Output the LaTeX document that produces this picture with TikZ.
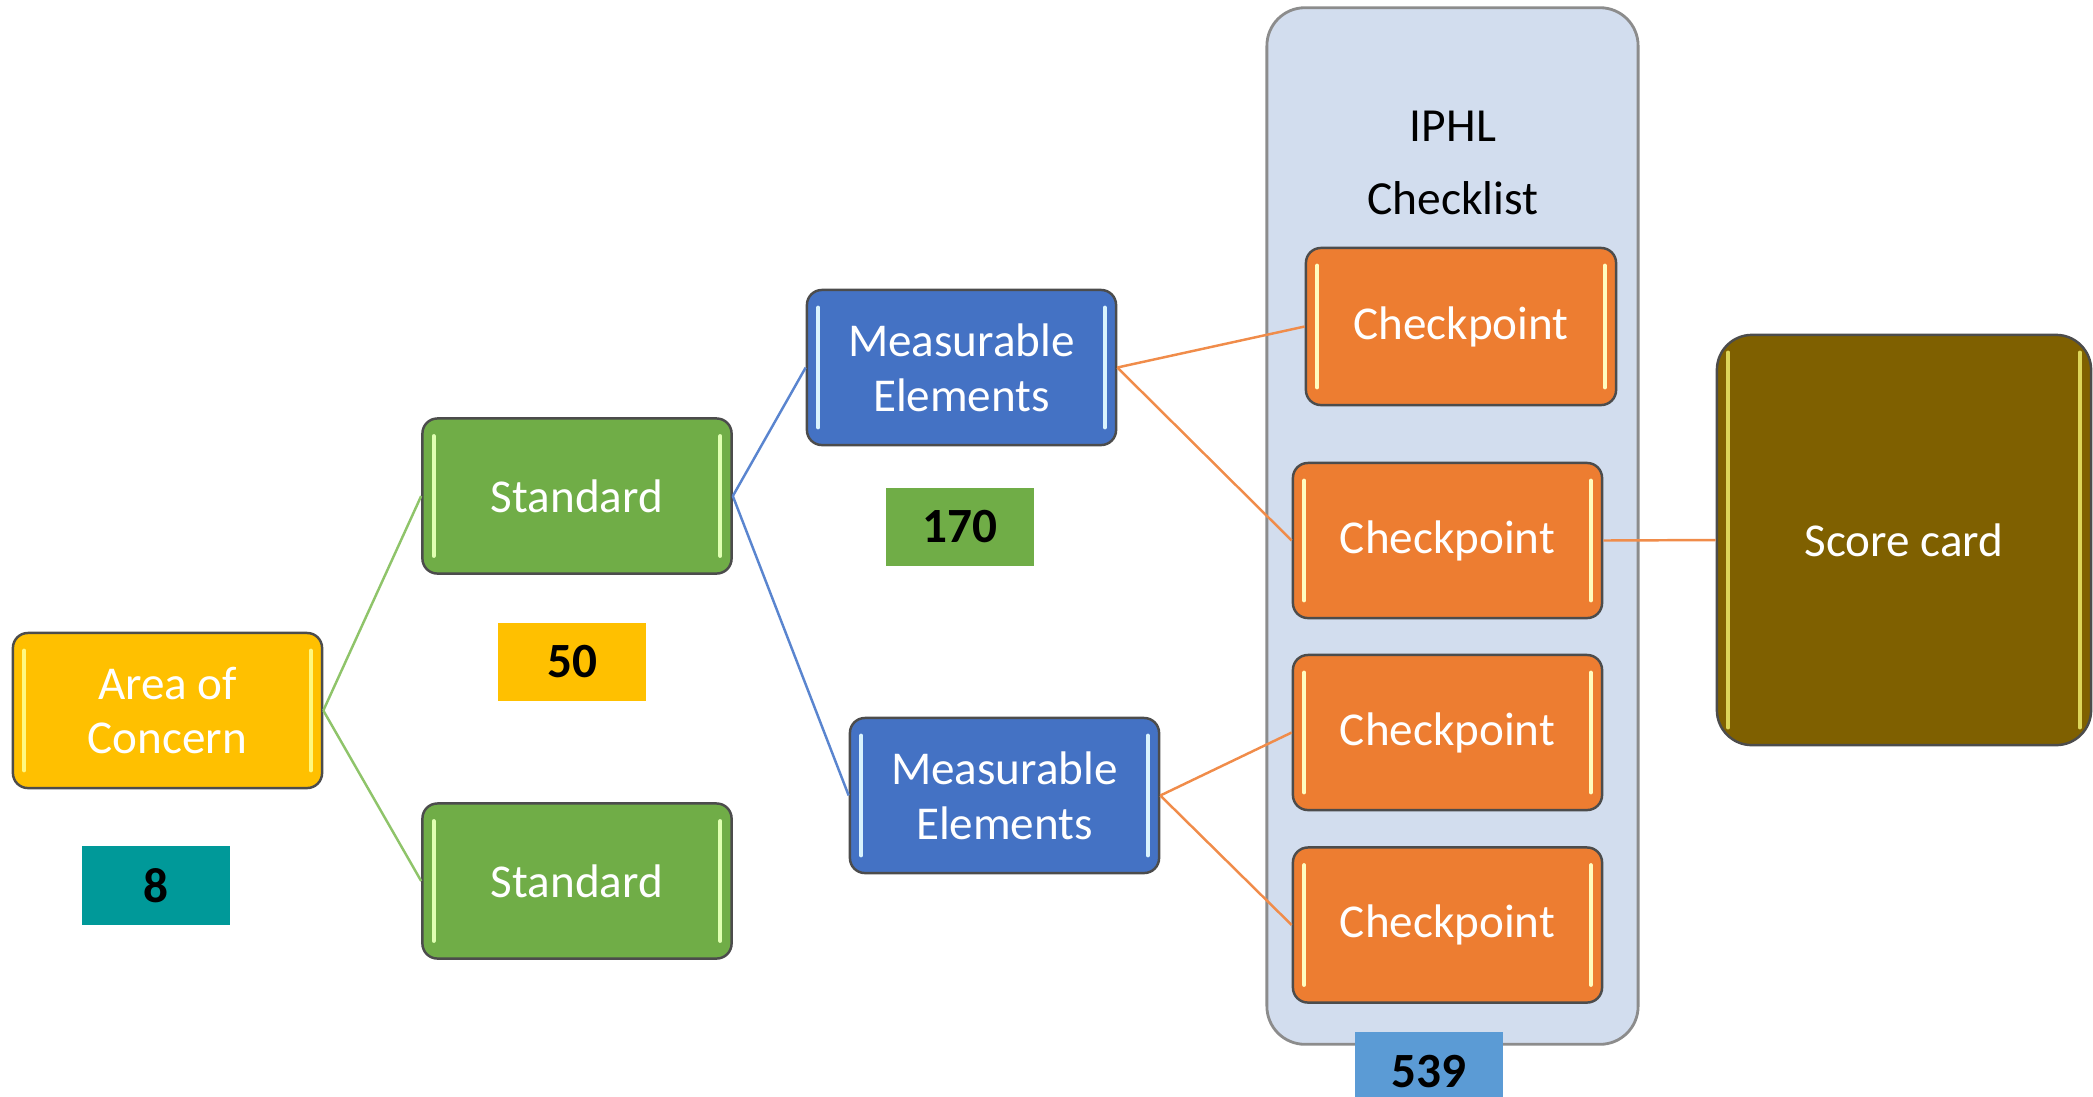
\documentclass[tikz,border=0pt]{standalone}
\usepackage{fontspec}
\setmainfont{Carlito}
\usetikzlibrary{positioning}

\definecolor{areayellow}{HTML}{FFC000}
\definecolor{stdgreen}{HTML}{70AD47}
\definecolor{meblue}{HTML}{4472C4}
\definecolor{cporange}{HTML}{ED7D31}
\definecolor{scoreolive}{HTML}{7F6000}
\definecolor{countteal}{HTML}{009999}
\definecolor{countblue}{HTML}{5B9BD5}
\definecolor{listfill}{HTML}{D2DDEE}
\definecolor{greenline}{HTML}{8FC46A}
\definecolor{blueline}{HTML}{5A85CF}
\definecolor{orangeline}{HTML}{F08C4A}

\tikzset{
  box/.style={draw=black!70, line width=0.7pt, rounded corners=0.15cm,
    text=white, align=center, font=\fontsize{13.4}{15.6}\selectfont,
    minimum width=3.09cm, minimum height=1.55cm, inner sep=0pt},
  gloss/.style={path picture={
    \draw[#1, line width=1.1pt, line cap=round]
      ([xshift=3.2pt,yshift=-5pt]path picture bounding box.north west) --
      ([xshift=3.2pt,yshift=5pt]path picture bounding box.south west);
    \draw[#1, line width=1.1pt, line cap=round]
      ([xshift=-3.2pt,yshift=-5pt]path picture bounding box.north east) --
      ([xshift=-3.2pt,yshift=5pt]path picture bounding box.south east);}},
  areabox/.style={box, fill=areayellow, gloss=yellow!50},
  stdbox/.style={box, fill=stdgreen, gloss=green!20!lime!30},
  mebox/.style={box, fill=meblue, gloss=cyan!15},
  cpbox/.style={box, fill=cporange, gloss=yellow!25},
  scorebox/.style={box, fill=scoreolive, gloss=yellow!50!olive!60,
    rounded corners=0.35cm},
  countbox/.style={fill=#1, minimum width=1.48cm, minimum height=0.78cm,
    inner sep=0pt, font=\fontsize{14}{16}\selectfont\bfseries},
  link/.style={line width=0.7pt}
}

\begin{document}
\begin{tikzpicture}[x=0.01cm, y=-0.01cm]
  \clip (0,0) rectangle (2093,1096);

  % IPHL checklist frame
  \node[draw=black!45, line width=0.8pt, fill=listfill, rounded corners=0.38cm,
    minimum width=3.71cm, minimum height=10.36cm] (iphl) at (1452.5,526) {};
  \node[align=center, font=\fontsize{13.5}{20.7}\selectfont] (iphltitle)
    at (1453,163) {IPHL\\Checklist};

  % Boxes
  \node[areabox] (area) at (167.5,710.5) {Area of\\Concern};
  \node[stdbox] (std1) at (577,496) {Standard};
  \node[stdbox] (std2) at (577,881) {Standard};
  \node[mebox] (me1) at (961.5,367.5) {Measurable\\Elements};
  \node[mebox] (me2) at (1004.5,795.5) {Measurable\\Elements};
  \node[cpbox, minimum width=3.10cm, minimum height=1.57cm] (cp1) at (1461,326.5) {Checkpoint};
  \node[cpbox] (cp2) at (1447.5,540.5) {Checkpoint};
  \node[cpbox] (cp3) at (1447.5,732.5) {Checkpoint};
  \node[cpbox] (cp4) at (1447.5,925) {Checkpoint};
  \node[scorebox, minimum width=3.74cm, minimum height=4.10cm] (score)
    at (1904,540) {Score card};

  % Counts
  \node[countbox=countteal] (n8) at (156,885.5) {8};
  \node[countbox=areayellow] (n50) at (572,662) {50};
  \node[countbox=stdgreen] (n170) at (960,527) {170};
  \node[countbox=countblue, minimum height=0.8cm] (n539) at (1429,1072) {539};

  % Connectors
  \draw[link, greenline] (area.east) -- (std1.west);
  \draw[link, greenline] (area.east) -- (std2.west);
  \draw[link, blueline] (std1.east) -- (me1.west);
  \draw[link, blueline] (std1.east) -- (me2.west);
  \draw[link, orangeline] (me1.east) -- (cp1.west);
  \draw[link, orangeline] (me1.east) -- (cp2.west);
  \draw[link, orangeline] (me2.east) -- (cp3.west);
  \draw[link, orangeline] (me2.east) -- (cp4.west);
  \draw[link, orangeline] (cp2.east) -- (score.west);
\end{tikzpicture}
\end{document}
